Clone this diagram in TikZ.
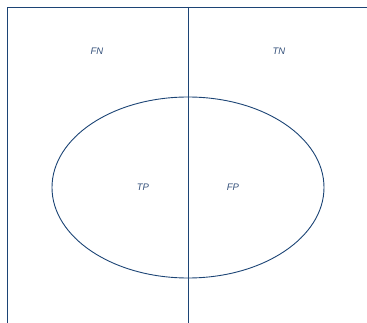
\documentclass[tikz,border=0pt]{standalone}
\usepackage{fontspec}
\usetikzlibrary{shapes.geometric}
\setmainfont{Liberation Sans}
\definecolor{lineblue}{HTML}{1C4475}
\definecolor{textblue}{HTML}{34507A}
\begin{document}
\begin{tikzpicture}[x=1pt,y=-1pt,
  lbl/.style={font=\itshape\fontsize{9.5}{11}\selectfont, text=textblue, inner sep=0pt},
  ln/.style={draw=lineblue, line width=0.9pt}]
\useasboundingbox (0,0) rectangle (367,323);
\coordinate (tl) at (7,7);
\coordinate (tr) at (367,7);
\coordinate (bl) at (7,323);
\coordinate (tm) at (188,7);
\coordinate (bm) at (188,323);
\draw[ln] (tr) -- (tl) -- (bl);
\draw[ln] (tm) -- (bm);
\node[ln, ellipse, draw, minimum width=272pt, minimum height=181pt, inner sep=0pt] (ell) at (188,187.5) {};
\node[lbl] (fn) at (97,51) {FN};
\node[lbl] (tn) at (279,51) {TN};
\node[lbl] (tp) at (143,187) {TP};
\node[lbl] (fp) at (233,187) {FP};
\end{tikzpicture}
\end{document}
